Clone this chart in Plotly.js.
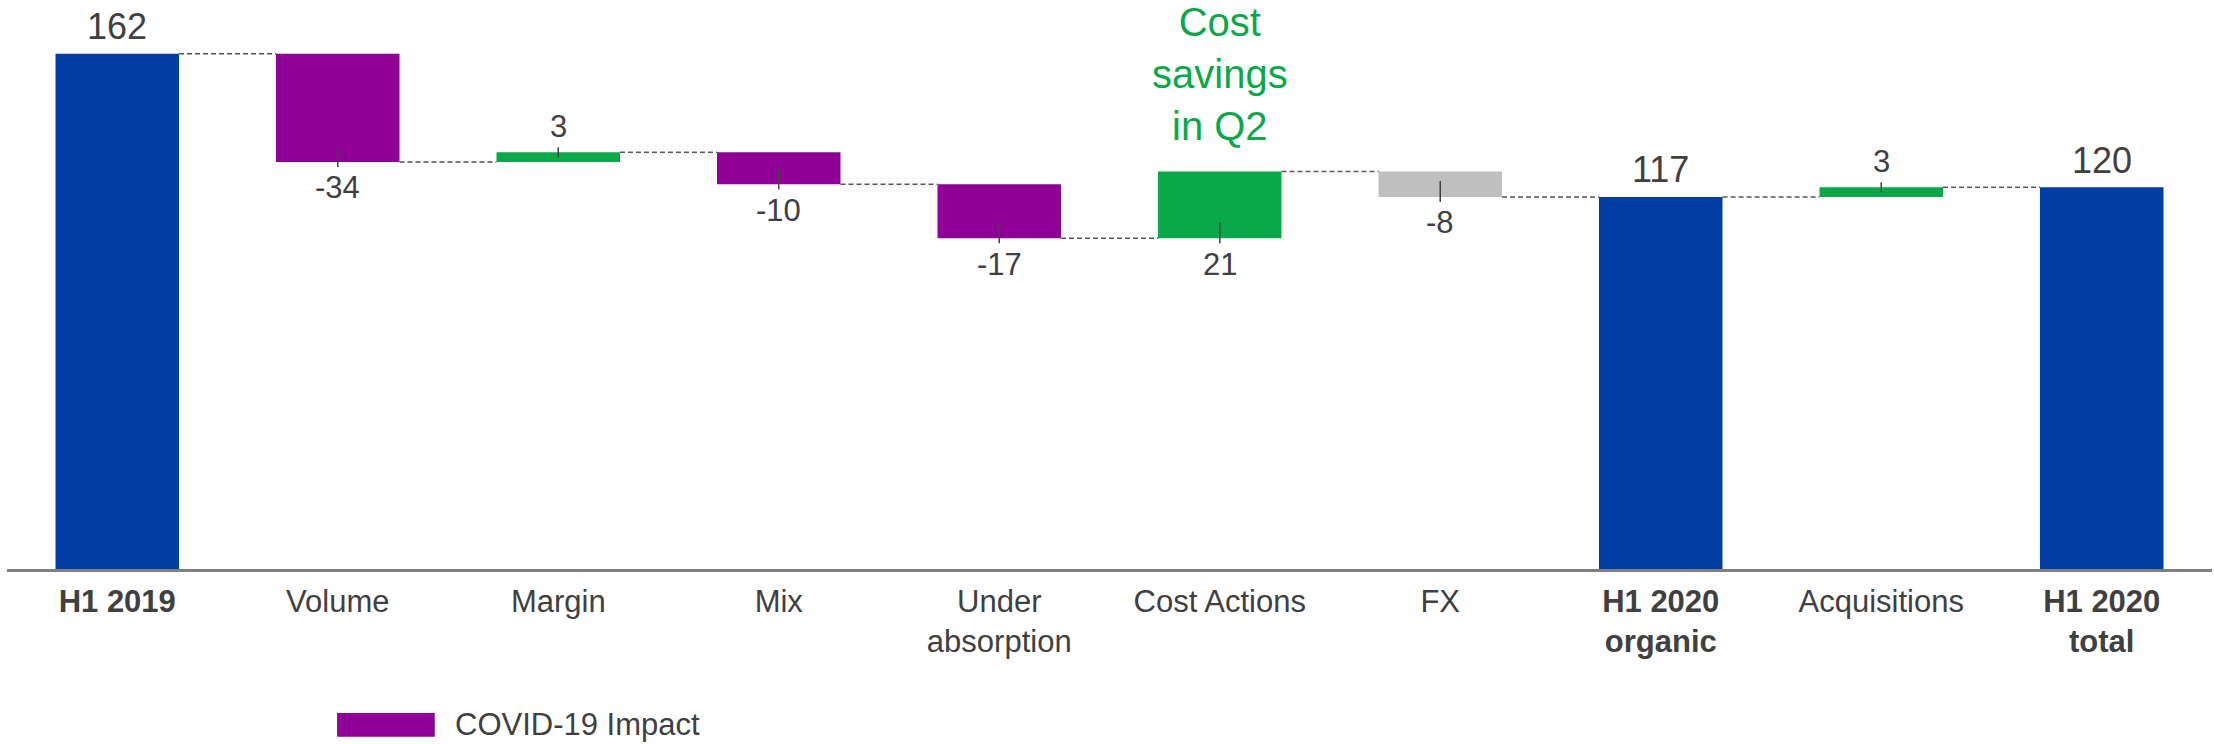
<!DOCTYPE html>
<html>
<head>
<meta charset="utf-8">
<script src="https://cdn.plot.ly/plotly-3.0.1.min.js"></script>
<style>
  html, body { margin:0; padding:0; background:#fff; }
  #chart { width:2214px; height:744px; }
</style>
</head>
<body>
<div id="chart"></div>
<script>
// bridge data, EBITDA-style walk H1 2019 -> H1 2020
const categories = ["H1 2019", "Volume", "Margin", "Mix", "Under<br>absorption", "Cost Actions", "FX", "H1 2020<br>organic", "Acquisitions", "H1 2020<br>total"];
const measures = ["total", "delta", "delta", "delta", "delta", "delta", "delta", "total", "delta", "total"];
const values = [162, -34, 3, -10, -17, 21, -8, 117, 3, 120];
const kinds = ["total", "covid", "gain", "covid", "covid", "gain", "fx", "total", "gain", "total"];
const noteText = "Cost<br>savings<br>in Q2";
const noteCategory = 5;
const legendLabel = "COVID-19 Impact";

const colors = { total:"#003DA5", covid:"#8E0096", gain:"#0BA84A", fx:"#BFBFBF" };
const txt = "#404040";
const font = "Liberation Sans, Arial, sans-serif";

// running totals -> bar bases/heights
const xs = [], bases = [], heights = [], ends = [];
let run = 0;
values.forEach((v, i) => {
  xs.push(i);
  if (measures[i] === "total"){
    bases.push(0); heights.push(v); run = v;
  } else {
    bases.push(v >= 0 ? run : run + v); heights.push(Math.abs(v)); run += v;
  }
  ends.push(run);
});

const bw = 0.56;

// dashed connectors between bars
const cx = [], cy = [];
for (let i=0;i<values.length-1;i++){
  cx.push(i + bw/2, i + 1 - bw/2, null);
  cy.push(ends[i], ends[i], null);
}

const annotations = [];
const shapes = [];

values.forEach((v, i) => {
  const top = bases[i] + heights[i];
  const bottom = bases[i];
  if (measures[i] === "total"){
    annotations.push({ x:i, y:top, xref:"x", yref:"y", text:String(v), showarrow:false,
      yanchor:"middle", yshift:27, font:{ family:font, size:36, color:txt } });
    return;
  }
  const below = v < 0 || i === noteCategory;
  const at = below ? bottom : top;
  annotations.push({ x:i, y:at, xref:"x", yref:"y", text:String(v), showarrow:false,
    yanchor:"middle", yshift: below ? -26 : 26, font:{ family:font, size:31, color:txt } });
  shapes.push({ type:"line", xref:"x", yref:"y", x0:i, x1:i, ysizemode:"pixel", yanchor:at,
    y0: below ? 16 : -5, y1: below ? -5 : 5, line:{ color:"#404040", width:1.5 } });
});

// green note above Cost Actions
annotations.push({ x:noteCategory, y:0.87, xref:"x", yref:"paper", text:noteText, showarrow:false,
  yanchor:"middle", font:{ family:font, size:40, color:"#0BA84A" } });

// hand-drawn legend (wide swatch like the original)
shapes.push({ type:"rect", xref:"paper", yref:"paper", x0:0.1497, x1:0.194, y0:-0.295, y1:-0.253,
  fillcolor:colors.covid, line:{ width:0 } });
annotations.push({ x:0.2023, y:-0.274, xref:"paper", yref:"paper", text:legendLabel, showarrow:false,
  xanchor:"left", yanchor:"middle", font:{ family:font, size:31, color:txt } });

const data = [
  {
    type:"bar", x:xs, y:heights, base:bases, width:bw,
    marker:{ color:kinds.map(k => colors[k]), line:{ width:0 } },
    hoverinfo:"skip", showlegend:false
  },
  {
    type:"scatter", mode:"lines", x:cx, y:cy,
    line:{ color:"#555555", width:1.5, dash:"5px,3px" },
    hoverinfo:"skip", showlegend:false
  }
];

const layout = {
  width:2214, height:744,
  margin:{ t:0, r:2, b:175, l:7 },
  paper_bgcolor:"#fff", plot_bgcolor:"#fff",
  showlegend:false,
  font:{ family:font, color:txt },
  xaxis:{
    range:[-0.5, 9.5], tickvals:xs,
    ticktext:categories.map((c, i) => measures[i] === "total" ? "<b>" + c + "</b>" : c),
    tickfont:{ family:font, size:31, color:txt },
    ticklabelstandoff:3,
    showgrid:false, zeroline:false, showline:true, linecolor:"#7f7f7f", linewidth:2.5,
    ticks:"", fixedrange:true
  },
  yaxis:{
    range:[0, 178.9], visible:false, showgrid:false, zeroline:false, fixedrange:true
  },
  annotations, shapes
};

Plotly.newPlot("chart", data, layout, { staticPlot:true, displayModeBar:false });
</script>
</body>
</html>
